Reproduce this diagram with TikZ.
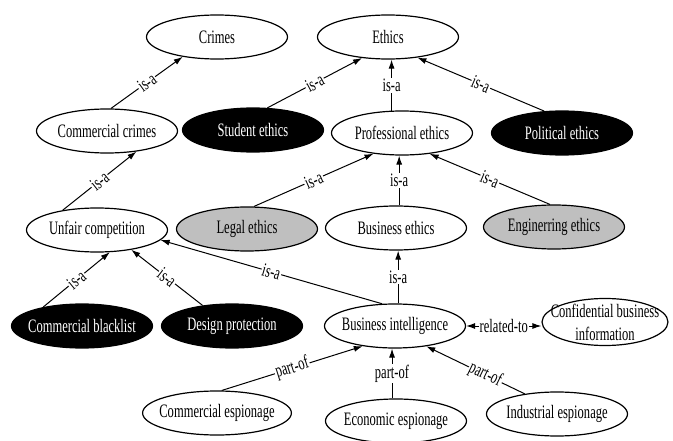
\documentclass[tikz,border=0pt]{standalone}
\usepackage{fontspec}
\setmainfont{Liberation Serif}[FakeStretch=0.66]
\usetikzlibrary{shapes.geometric,arrows.meta}
\begin{document}
\begin{tikzpicture}[x=1pt,y=-1pt,>={Latex[length=9pt,width=6pt]},font=\fontsize{19}{23}\selectfont]
        \tikzstyle{concept}=[ellipse,draw=black,line width=1.2pt,fill=white,minimum width=141pt,minimum height=44pt,inner xsep=-5pt,inner ysep=2pt]
        \tikzstyle{dark}=[concept,fill=black,text=white]
        \tikzstyle{grey}=[concept,fill=black!25]
        \tikzstyle{link}=[draw,->,line width=1pt]
        \tikzstyle{tag}=[fill=white,inner sep=1pt]
        \useasboundingbox (0,0) rectangle (673,441);
        % concepts
        \node [concept] (cr)  at (217,37)  {Crimes};
        \node [concept] (eth) at (388,37)  {Ethics};
        \node [concept] (cc)  at (107,131) {Commercial crimes};
        \node [dark]    (se)  at (253,130) {Student ethics};
        \node [concept] (pe)  at (402,133) {Professional ethics};
        \node [dark]    (pol) at (562,133) {Political ethics};
        \node [concept] (uc)  at (97,230)  {Unfair competition};
        \node [grey]    (le)  at (247,229) {Legal ethics};
        \node [concept] (be)  at (396,228) {Business ethics};
        \node [grey]    (ee)  at (554,227) {Enginerring ethics};
        \node [dark]    (cb)  at (82,326)  {Commercial blacklist};
        \node [dark]    (dp)  at (232,326) {Design protection};
        \node [concept] (bi)  at (395,326) {Business intelligence};
        \node [concept,align=center,minimum width=126pt,minimum height=47pt,inner xsep=-10pt,inner ysep=-4pt] (cbi) at (605,322) {Confidential business\\information};
        \node [concept] (ce)  at (217,413) {Commercial espionage};
        \node [concept] (ec)  at (396,421) {Economic espionage};
        \node [concept] (ie)  at (557,414) {Industrial espionage};
        % is-a
        \path (cc.80) edge[link] node[tag,sloped] {is-a} (cr.210);
        \path (uc.150) edge[link] node[tag,sloped] {is-a} (cc.325);
        \path (se.57) edge[link] node[tag,sloped] {is-a} (eth.219);
        \path (pe.115) edge[link] node[tag] {is-a} (pe.115 |- eth.south);
        \path (pol.129) edge[link] node[tag,sloped] {is-a} (eth.325);
        \path (le.73) edge[link] node[tag,sloped] {is-a} (pe.216);
        \path (be.82) edge[link] node[tag] {is-a} (be.82 |- pe.south);
        \path (ee.100) edge[link] node[tag,sloped] {is-a} (pe.323);
        \path (cb.154) edge[link] node[tag,sloped] {is-a} (uc.300);
        \path (dp.145) edge[link] node[tag,sloped] {is-a} (uc.330);
        \path (bi.120) edge[link] node[tag,sloped] {is-a} (uc.351);
        \path (bi.82) edge[link] node[tag] {is-a} (bi.82 |- be.south);
        % related-to
        \path (bi.east) edge[link,<->] node[tag] {related-to} (bi.east -| cbi.west);
        % part-of
        \path (ce.78) edge[link] node[tag,sloped] {part-of} (bi.212);
        \path (ec.100) edge[link] node[tag] {part-of} (ec.100 |- bi.south);
        \path (ie.148) edge[link] node[tag,sloped,pos=0.4] {part-of} (bi.327);
\end{tikzpicture}
\end{document}
